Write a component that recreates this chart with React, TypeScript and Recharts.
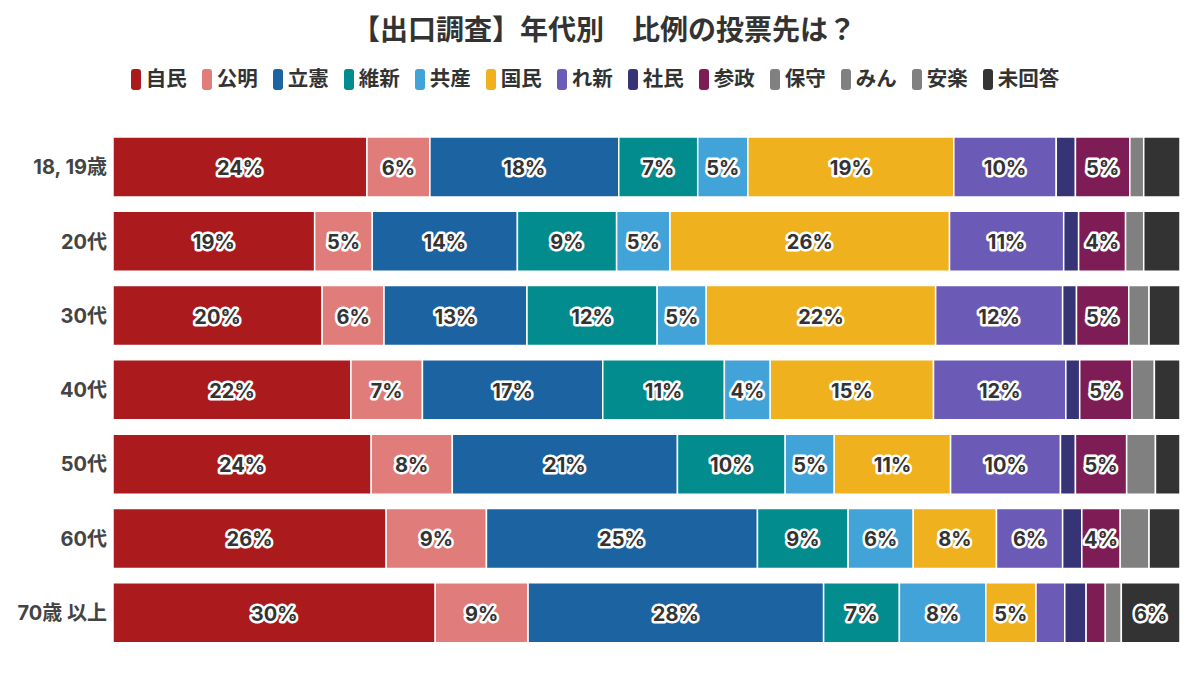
import { BarChart, Bar, XAxis, YAxis, LabelList } from "recharts";

const FONT = "Inter, 'Noto Sans CJK JP', sans-serif";

// age groups (rows, top to bottom)
const ageGroups = ["18, 19歳", "20代", "30代", "40代", "50代", "60代", "70歳 以上"];

// parties, in stacking order
const parties = ["自民", "公明", "立憲", "維新", "共産", "国民", "れ新", "社民", "参政", "保守", "みん", "安楽", "未回答"];
const partyColors = [
  "#ab1a1c", "#e07c79", "#1c63a2", "#028c8d", "#42a3d8", "#efb11d", "#6b5bb7",
  "#363476", "#7e1d55", "#808080", "#808080", "#808080", "#333333",
];

// share of vote (%) per age group
const ldp = [23.8, 18.9, 19.6, 22.3, 24.2, 25.6, 30.2];
const komeito = [5.9, 5.4, 5.8, 6.7, 7.6, 9.4, 8.7];
const cdp = [17.7, 13.6, 13.4, 16.9, 21.1, 25.4, 27.7];
const ishin = [7.4, 9.3, 12.2, 11.4, 10.1, 8.5, 7.1];
const jcp = [4.7, 5.0, 4.6, 4.3, 4.6, 6.1, 8.1];
const dpp = [19.3, 26.2, 21.5, 15.3, 10.9, 7.8, 4.7];
const reiwa = [9.6, 10.7, 11.9, 12.4, 10.3, 6.2, 2.7];
const sdp = [1.8, 1.4, 1.3, 1.3, 1.4, 1.8, 2.0];
const sanseito = [5.1, 4.4, 4.9, 4.9, 4.8, 3.6, 1.8];
const hoshu = [1.3, 1.7, 1.9, 2.1, 2.7, 2.7, 1.5];
const minna = [0, 0, 0, 0, 0, 0, 0];
const anraku = [0, 0, 0, 0, 0, 0, 0];
const noAnswer = [3.4, 3.4, 2.9, 2.4, 2.3, 2.9, 5.5];

const seriesValues = [ldp, komeito, cdp, ishin, jcp, dpp, reiwa, sdp, sanseito, hoshu, minna, anraku, noAnswer];

const data = ageGroups.map((age, i) => {
  const row: Record<string, string | number> = { age };
  parties.forEach((p, j) => {
    row[p] = seriesValues[j][i];
  });
  return row;
});

function SegmentLabel(props: any) {
  const vb = props.viewBox ?? {};
  const x = props.x ?? vb.x;
  const y = props.y ?? vb.y;
  const width = props.width ?? vb.width;
  const height = props.height ?? vb.height;
  const raw = props.value;
  const v = Array.isArray(raw) ? raw[1] - raw[0] : Number(raw);
  const pct = Math.round(v);
  // small shares get no label
  if (!(pct >= 4)) return null;
  return (
    <text
      x={x + width / 2}
      y={y + height / 2 + 1}
      textAnchor="middle"
      dominantBaseline="central"
      fill="#333"
      stroke="#fff"
      strokeWidth={5}
      strokeLinejoin="round"
      paintOrder="stroke"
      fontSize={20}
      fontWeight={700}
      fontFamily={FONT}
    >
      {pct}%
    </text>
  );
}

function PartyLegend() {
  return (
    <div
      style={{
        position: "absolute",
        top: 65,
        left: 0,
        width: 1190,
        display: "flex",
        justifyContent: "center",
        alignItems: "center",
      }}
    >
      {parties.map((p, i) => (
        <div key={p} style={{ display: "flex", alignItems: "center", marginRight: i < parties.length - 1 ? 15 : 0 }}>
          <span
            style={{
              display: "inline-block",
              width: 10,
              height: 21,
              borderRadius: 3,
              background: partyColors[i],
              marginRight: 5,
            }}
          />
          <span style={{ fontSize: 20.5, fontWeight: 700, color: "#333", lineHeight: "28px" }}>{p}</span>
        </div>
      ))}
    </div>
  );
}

export default function App() {
  return (
    <div
      style={{
        position: "absolute",
        left: 0,
        top: 0,
        width: 1200,
        height: 675,
        background: "#fff",
        fontFamily: FONT,
      }}
    >
      <div
        style={{
          position: "absolute",
          top: 11,
          left: 0,
          width: 1208,
          textAlign: "center",
          fontSize: 28,
          fontWeight: 700,
          color: "#333",
          lineHeight: "38px",
        }}
      >
        【出口調査】年代別　比例の投票先は？
      </div>
      <PartyLegend />
      <div style={{ position: "absolute", left: 0, top: 0 }}>
        <BarChart
          width={1200}
          height={675}
          data={data}
          layout="vertical"
          margin={{ top: 130, right: 20, bottom: 25, left: 8 }}
        >
          <XAxis type="number" domain={[0, 100]} hide allowDataOverflow />
          <YAxis
            type="category"
            dataKey="age"
            width={105}
            axisLine={false}
            tickLine={false}
            tickSize={4}
            tickMargin={2}
            tick={{ fontSize: 20, fontWeight: 700, fill: "#444", fontFamily: FONT }}
          />
          {parties.map((p, i) => (
            <Bar
              key={p}
              dataKey={p}
              stackId="a"
              fill={partyColors[i]}
              stroke="#fff"
              strokeWidth={1.5}
              barSize={60}
              isAnimationActive={false}
            >
              <LabelList dataKey={p} content={SegmentLabel} />
            </Bar>
          ))}
        </BarChart>
      </div>
    </div>
  );
}
